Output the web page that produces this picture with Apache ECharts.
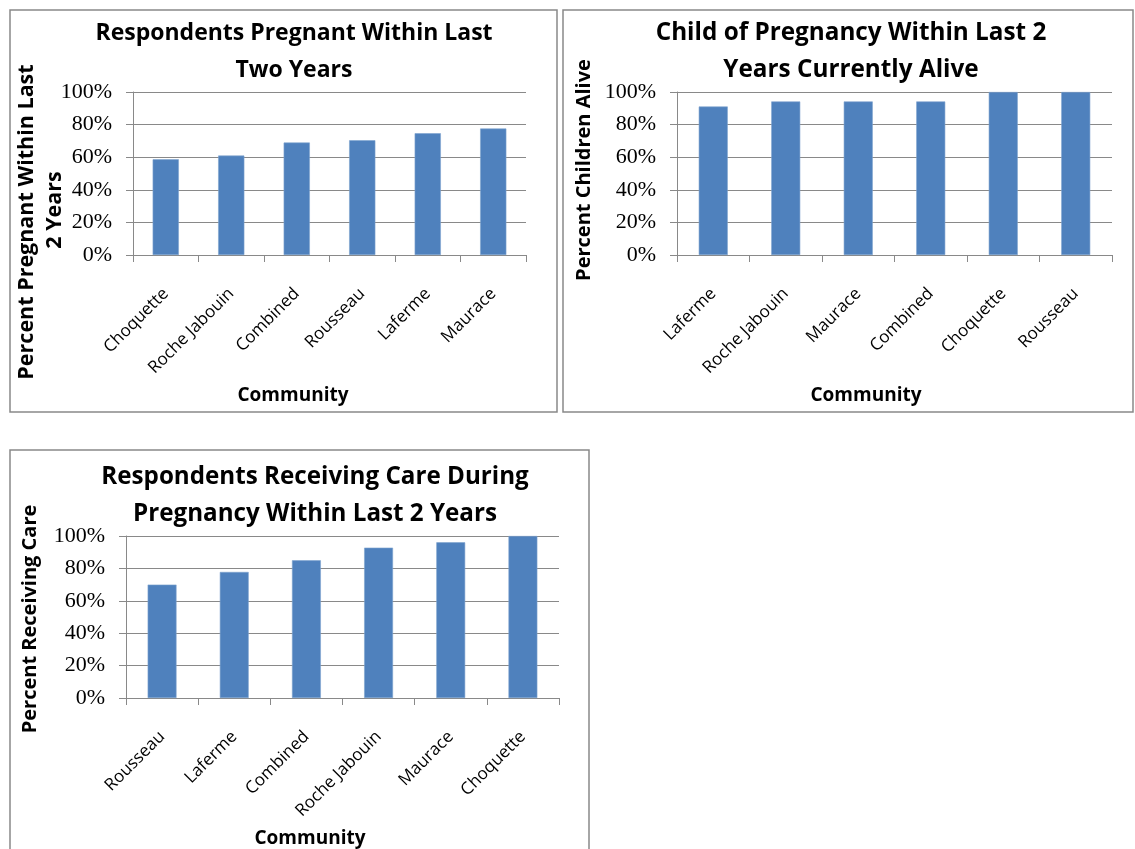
<!DOCTYPE html>
<html>
<head>
<meta charset="utf-8">
<style>
  html, body { margin: 0; padding: 0; background: #fff; }
  #main { width: 1135px; height: 849px; }
</style>
<script src="https://cdn.jsdelivr.net/npm/echarts@6.0.0/dist/echarts.min.js"></script>
</head>
<body>
<div id="main"></div>
<script>
// data (percent)
const cats1 = ['Choquette', 'Roche Jabouin', 'Combined', 'Rousseau', 'Laferme', 'Maurace'];
const vals1 = [58.7, 61.0, 69.0, 70.4, 74.7, 77.6];

const cats2 = ['Laferme', 'Roche Jabouin', 'Maurace', 'Combined', 'Choquette', 'Rousseau'];
const vals2 = [91.1, 94.2, 94.2, 94.2, 100, 100];

const cats3 = ['Rousseau', 'Laferme', 'Combined', 'Roche Jabouin', 'Maurace', 'Choquette'];
const vals3 = [70.0, 77.8, 85.0, 92.8, 96.1, 100];

const titles = [
  'Respondents Pregnant Within Last\nTwo Years',
  'Child of Pregnancy Within Last 2\nYears Currently Alive',
  'Respondents Receiving Care During\nPregnancy Within Last 2 Years'
];
const yNames = [['Percent Pregnant Within Last', '2 Years'], ['Percent Children Alive'], ['Percent Receiving Care']];
const xName = 'Community';

const barColor = '#4F81BD';
const gray = '#898989';
const sans = '"Open Sans", Lato, sans-serif';

// panel layout (pixels)
const panels = [
  { box: [10, 10, 547, 402], grid: { left: 133, top: 92, width: 393, height: 163 },
    titleX: 289, titleY: 10, titleSize: 23, yName: [[27, 222], [55, 210]], yNameSize: 21.5, xNameX: 293, xNameY: 396 },
  { box: [563, 10, 570, 402], grid: { left: 677, top: 92, width: 435, height: 163 },
    titleX: 846, titleY: 10, titleSize: 24.3, yName: [[584, 170]], yNameSize: 20, xNameX: 866, xNameY: 396 },
  { box: [10, 450, 579, 420], grid: { left: 126, top: 536, width: 433, height: 162 },
    titleX: 310, titleY: 454, titleSize: 24.2, yName: [[30, 619]], yNameSize: 20, xNameX: 310, xNameY: 839 }
];
const catSets = [cats1, cats2, cats3];
const valSets = [vals1, vals2, vals3];

let option = {
  backgroundColor: '#fff',
  animation: false,
  title: [],
  grid: [],
  xAxis: [],
  yAxis: [],
  series: [],
  graphic: []
};

panels.forEach((p, i) => {
  // panel frame
  option.graphic.push({
    type: 'rect',
    shape: { x: p.box[0], y: p.box[1], width: p.box[2], height: p.box[3] },
    style: { fill: 'none', stroke: gray, lineWidth: 1.5 },
    silent: true
  });
  // vertical axis name, one text per line
  yNames[i].forEach((line, k) => {
    option.graphic.push({
      type: 'text',
      x: p.yName[k][0], y: p.yName[k][1],
      rotation: Math.PI / 2,
      style: {
        text: line,
        font: 'bold ' + p.yNameSize + 'px ' + sans,
        fill: '#000',
        align: 'center',
        verticalAlign: 'middle'
      }
    });
  });
  option.graphic.push({
    type: 'text',
    x: p.xNameX, y: p.xNameY,
    style: {
      text: xName,
      font: 'bold 19px ' + sans,
      fill: '#000',
      align: 'center',
      verticalAlign: 'middle'
    }
  });

  option.title.push({
    text: titles[i],
    left: p.titleX,
    top: p.titleY,
    textAlign: 'center',
    textStyle: { fontFamily: sans, fontWeight: 'bold', fontSize: p.titleSize, color: '#000', lineHeight: 37 }
  });
  option.grid.push(Object.assign({ containLabel: false }, p.grid));
  option.xAxis.push({
    type: 'category',
    gridIndex: i,
    data: catSets[i],
    axisLine: { lineStyle: { color: gray, width: 1 } },
    axisTick: { show: true, length: 7, lineStyle: { color: gray } },
    axisLabel: { rotate: 45, margin: 36, color: '#000', fontFamily: sans, fontSize: 17, interval: 0 }
  });
  option.yAxis.push({
    type: 'value',
    gridIndex: i,
    min: 0, max: 100, interval: 20,
    axisLine: { show: true, lineStyle: { color: gray, width: 1 } },
    axisTick: { show: true, length: 7, lineStyle: { color: gray } },
    splitLine: { lineStyle: { color: gray, width: 1 } },
    axisLabel: { formatter: '{value}%', margin: 21, color: '#000', fontFamily: '"Liberation Serif", serif', fontSize: 22 }
  });
  option.series.push({
    type: 'bar',
    xAxisIndex: i,
    yAxisIndex: i,
    data: valSets[i],
    barWidth: '40%',
    itemStyle: { color: barColor, borderColor: '#7EA3CF', borderWidth: 0.6 }
  });
});

const myChart = echarts.init(document.getElementById('main'));
myChart.setOption(option);
</script>
</body>
</html>
